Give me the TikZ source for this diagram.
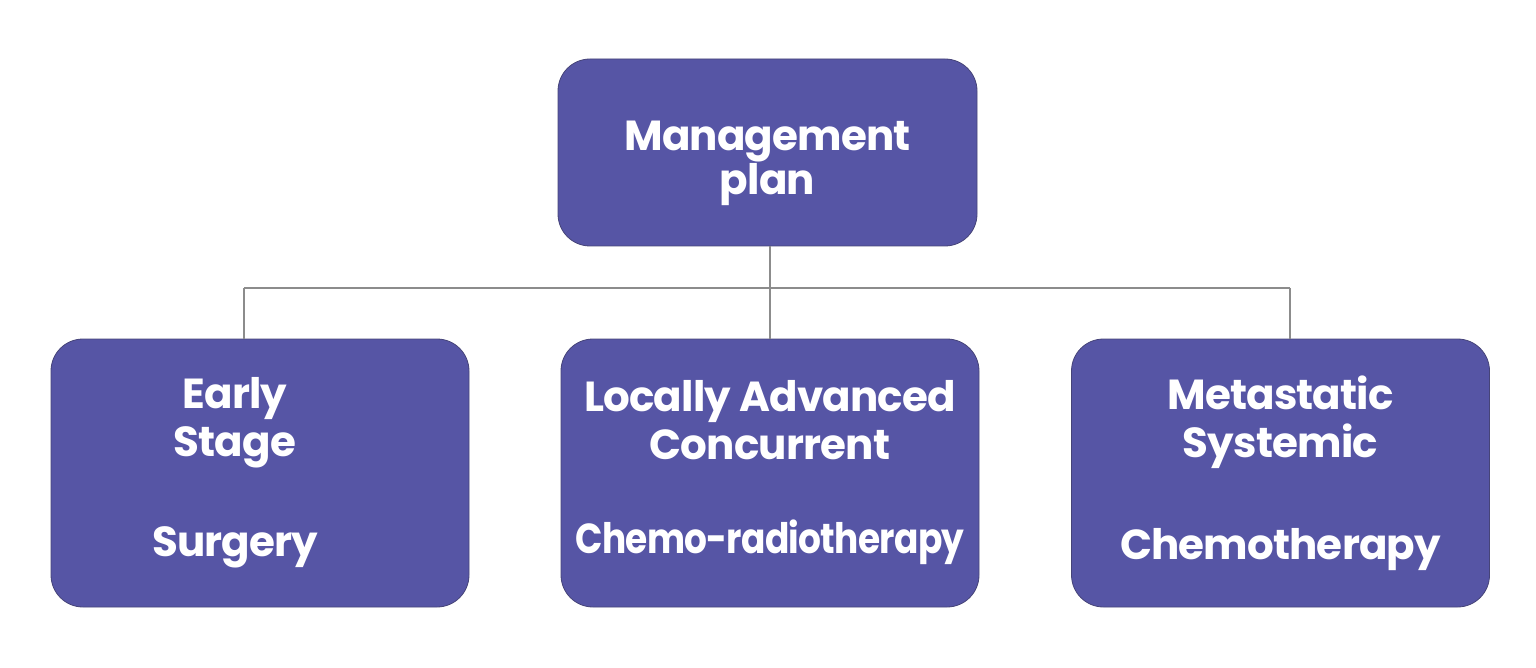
\documentclass[tikz,border=0pt]{standalone}
\usepackage{fontspec}
\setmainfont{Poppins}[LetterSpace=-2]
\usepackage{graphicx}
\usepackage{tikz}
\usetikzlibrary{calc,positioning}
\definecolor{planfill}{RGB}{86,85,165}
\definecolor{planline}{RGB}{70,68,120}
\definecolor{linkgray}{RGB}{140,140,140}

\begin{document}
\begin{tikzpicture}[
                x=0.5pt,y=-0.5pt,
                box/.style={rectangle,rounded corners=16pt,fill=planfill,draw=planline,line width=0.4pt,
                    outer sep=0pt,minimum width=209pt,minimum height=134pt,
                    text=white,align=center,font=\bfseries\fontsize{21}{24}\selectfont},
                boxtext/.style={text=white,align=center,inner sep=0pt,font=\bfseries\fontsize{21}{24}\selectfont},
                link/.style={draw=linkgray,line width=0.6pt}
            ]
                \useasboundingbox (0,0) rectangle (1536,668);
                \node (plan)  [box,minimum width=209.5pt,minimum height=93.5pt] at (767.5,152.5) {};
                \node (planT) [boxtext,font=\bfseries\fontsize{21}{22}\selectfont]
                              at ([yshift=-5.5]plan.center) {Management\\plan};
                \node (early) [box] at (260,473) {};
                \node (earlyT) [boxtext] at ([xshift=-12.5]early.center) {Early\\Stage\\[26pt]Surgery};
                \node (local) [box] at (770,473) {Locally Advanced\\Concurrent\\[23pt]%
                              \resizebox{194.5pt}{\height}{Chemo-radiotherapy}};
                \node (meta)  [box] at (1280.5,473) {Metastatic\\Systemic\\[27pt]Chemotherapy};
                \coordinate (hub)  at (770,288);
                \coordinate (hubL) at (244,288);
                \coordinate (hubR) at (1290,288);
                \draw[link] (plan.south -| hub) -- (hub);
                \draw[link] (hubL) -- (hubR);
                \draw[link] (hubL) -- (hubL |- early.north);
                \draw[link] (hub) -- (hub |- local.north);
                \draw[link] (hubR) -- (hubR |- meta.north);
            \end{tikzpicture}
\end{document}
